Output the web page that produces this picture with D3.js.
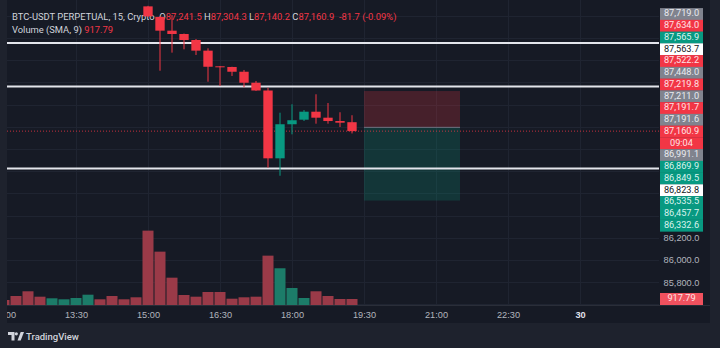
<!DOCTYPE html>
<html>
<head>
<meta charset="utf-8">
<script src="https://cdn.jsdelivr.net/npm/d3@7"></script>
<style>
  html, body { margin: 0; padding: 0; background: #1e222d; }
  svg { display: block; font-family: Roboto, "Noto Sans", sans-serif; }
</style>
</head>
<body>
<div id="chart"></div>
<script>
// bar times (15 min), 12:00 .. 19:15
var barTimes = ["12:00","12:15","12:30","12:45","13:00","13:15","13:30","13:45","14:00","14:15","14:30","14:45",
                "15:00","15:15","15:30","15:45","16:00","16:15","16:30","16:45","17:00","17:15","17:30","17:45",
                "18:00","18:15","18:30","18:45","19:00","19:15"];
// candles before 15:00 are above the visible range
var opens  = [null,null,null,null,null,null,null,null,null,null,null,null,
              88285,88190,88066,88036,87982,87886,87745,87739,87696,87597,87527,86916,87223,87264,87336,87282,87252,87241.5];
var highs  = [null,null,null,null,null,null,null,null,null,null,null,null,
              88290,88198,88207,88040,87991,87907,87748,87741,87712,87613,87552,87327,87403,87351,87493,87414,87331,87304.3];
var lows   = [null,null,null,null,null,null,null,null,null,null,null,null,
              88190,87705,87868,87898,87847,87606,87568,87658,87556,87523,86832,86759,87132,87252,87228,87228,87198,87140.2];
var closes = [null,null,null,null,null,null,null,null,null,null,null,null,
              88195,88066,88036,87982,87886,87741,87739,87696,87597,87527,86916,87223,87259,87336,87282,87252,87237,87160.9];
var volumes = [765,1377,2096,1270,1025,872,1071,1576,872,1377,872,1178,
               11368,8155,4177,1530,1270,1989,1989,964,1178,1270,7543,5615,2601,1071,2096,1377,918,917.79];
var volDir = ["d","d","d","d","u","u","u","u","d","d","d","d",
              "d","d","d","d","d","d","d","d","d","d","d","u","u","u","d","d","d","d"];

var timeTicks = ["12:00","13:30","15:00","16:30","18:00","19:30","21:00","22:30","30"];
var priceTicks = [85800, 86000, 86200];

// drawings
var hLines = [87955, 87563.7, 86823.8];
var position = {from: "19:30", to: "21:30", stop: 87522.2, entry: 87195, target: 86535.5};
var lastPrice = 87160.9;

// stacked labels on the price scale
var stackTexts = ["87,719.0","87,634.0","87,565.9","87,563.7","87,522.2","87,448.0","87,219.8","87,211.0","87,191.7","87,191.6",
                  "87,160.9","09:04","86,991.1","86,869.9","86,849.5","86,823.8","86,535.5","86,457.7","86,332.6"];
var stackKinds = ["gray","red","green","white","red","gray","red","gray","red","gray",
                  "red","red","gray","green","green","white","green","green","green"];

var legendMain = [["BTC-USDT PERPETUAL, 15, Crypto  ", "#d1d4dc"], ["O", "#d1d4dc"], ["87,241.5 ", "#f23645"],
                  ["H", "#d1d4dc"], ["87,304.3 ", "#f23645"], ["L", "#d1d4dc"], ["87,140.2 ", "#f23645"],
                  ["C", "#d1d4dc"], ["87,160.9 ", "#f23645"], [" -81.7 (-0.09%)", "#f23645"]];
var legendVol = [["Volume (SMA, 9) ", "#d1d4dc"], ["917.79", "#f23645"]];

var W = 720, H = 348;
var plot = {l: 7, r: 659, t: 0, b: 305};
var colors = {bg: "#161a25", frame: "#1e222d", grid: "#1f2431", up: "#089981", down: "#f23645",
              volUp: "#1c7c69", volDown: "#9a3a48", axisText: "#b2b5be"};

function parseT(s) {
    if (s === "30") return new Date(2025, 10, 30, 0, 0);
    var p = s.split(":");
    var h = +p[0], m = +p[1];
    return new Date(2025, 10, 29, h, m);
}

var x = d3.scaleTime().domain([parseT("12:00"), parseT("30")]).range([4, 580]);
var step = x(parseT("12:15")) - x(parseT("12:00"));
var y = d3.scaleLinear().domain([86000, 87000]).range([260, 149]);
var yV = d3.scaleLinear().domain([0, 12000]).range([plot.b, 226.5]);

var svg = d3.select("#chart").append("svg").attr("width", W).attr("height", H);

svg.append("rect").attr("width", W).attr("height", H).attr("fill", colors.frame);
svg.append("rect").attr("x", plot.l).attr("y", 0).attr("width", 710 - plot.l).attr("height", 323).attr("fill", colors.bg);

svg.append("clipPath").attr("id", "plotclip").append("rect")
    .attr("x", plot.l).attr("y", plot.t).attr("width", plot.r - plot.l).attr("height", plot.b - plot.t);

var g = svg.append("g").attr("clip-path", "url(#plotclip)");

// grid
var gridPrices = d3.range(85600, 88601, 200);
g.append("g").selectAll("line").data(gridPrices).enter().append("line")
    .attr("x1", plot.l).attr("x2", plot.r)
    .attr("y1", function(d){ return Math.round(y(d)) + 0.5; }).attr("y2", function(d){ return Math.round(y(d)) + 0.5; })
    .attr("stroke", colors.grid);
g.append("g").selectAll("line").data(timeTicks).enter().append("line")
    .attr("x1", function(d){ return Math.round(x(parseT(d))) + 0.5; }).attr("x2", function(d){ return Math.round(x(parseT(d))) + 0.5; })
    .attr("y1", plot.t).attr("y2", plot.b)
    .attr("stroke", colors.grid);

// legend (drawn under the candles, as in the screenshot)
function legendRow(rows, yy) {
    var t = svg.append("text").attr("x", 12).attr("y", yy).attr("font-size", 9.4).attr("dominant-baseline", "middle")
        .attr("xml:space", "preserve");
    rows.forEach(function(r){ t.append("tspan").attr("fill", r[1]).text(r[0]); });
}
legendRow(legendMain, 18);
legendRow(legendVol, 31);

var gc = svg.append("g").attr("clip-path", "url(#plotclip)");

// volume
gc.append("g").selectAll("rect").data(volumes).enter().append("rect")
    .attr("x", function(d, i){ return x(parseT(barTimes[i])) - step / 2 + 0.5; })
    .attr("width", step - 1)
    .attr("y", function(d){ return yV(d); })
    .attr("height", function(d){ return plot.b - yV(d); })
    .attr("fill", function(d, i){ return volDir[i] == "u" ? colors.volUp : colors.volDown; });

// position tool
var px0 = x(parseT(position.from)), px1 = x(parseT(position.to));
gc.append("rect").attr("x", px0).attr("width", px1 - px0)
    .attr("y", y(position.stop)).attr("height", y(position.entry) - y(position.stop))
    .attr("fill", "rgba(242,54,69,0.22)");
gc.append("rect").attr("x", px0).attr("width", px1 - px0)
    .attr("y", y(position.entry)).attr("height", y(position.target) - y(position.entry))
    .attr("fill", "rgba(8,153,129,0.22)");
gc.append("line").attr("x1", px0).attr("x2", px1).attr("y1", y(position.entry)).attr("y2", y(position.entry))
    .attr("stroke", "#6e7280").attr("stroke-width", 1);

// horizontal lines
gc.append("g").selectAll("line").data(hLines).enter().append("line")
    .attr("x1", plot.l).attr("x2", plot.r)
    .attr("y1", function(d){ return y(d); }).attr("y2", function(d){ return y(d); })
    .attr("stroke", "#e3e5ec").attr("stroke-width", 2);

// last price line
gc.append("line").attr("x1", plot.l).attr("x2", plot.r).attr("y1", y(lastPrice)).attr("y2", y(lastPrice))
    .attr("stroke", colors.down).attr("stroke-width", 1).attr("stroke-dasharray", "1,2").attr("opacity", 0.8);

// candles
var idx = d3.range(barTimes.length).filter(function(i){ return opens[i] != null; });
var bodyW = step * 0.78;
function cColor(i){ return closes[i] >= opens[i] ? colors.up : colors.down; }
gc.append("g").selectAll("line").data(idx).enter().append("line")
    .attr("x1", function(i){ return x(parseT(barTimes[i])); }).attr("x2", function(i){ return x(parseT(barTimes[i])); })
    .attr("y1", function(i){ return y(highs[i]); }).attr("y2", function(i){ return y(lows[i]); })
    .attr("stroke", cColor).attr("stroke-width", 1);
gc.append("g").selectAll("rect").data(idx).enter().append("rect")
    .attr("x", function(i){ return x(parseT(barTimes[i])) - bodyW / 2; })
    .attr("width", bodyW)
    .attr("y", function(i){ return y(Math.max(opens[i], closes[i])); })
    .attr("height", function(i){ return Math.max(1, Math.abs(y(opens[i]) - y(closes[i]))); })
    .attr("fill", cColor);

// price axis ticks
var pAxis = svg.append("g").attr("transform", "translate(" + plot.r + ",0)")
    .call(d3.axisRight(y).tickValues(priceTicks).tickFormat(d3.format(",.1f")).tickSize(0).tickPadding(6));
pAxis.select(".domain").remove();
pAxis.selectAll("text").attr("font-size", 9.2).attr("fill", colors.axisText).attr("x", 22.5)
    .attr("text-anchor", "middle").attr("font-family", null);

// time axis
var tAxis = svg.append("g").attr("transform", "translate(0," + plot.b + ")")
    .call(d3.axisBottom(x).tickValues(timeTicks.map(parseT)).tickSize(0).tickPadding(0)
        .tickFormat(function(d, i){ return timeTicks[i]; }));
tAxis.select(".domain").attr("stroke", "#2a2e39").attr("d", "M" + plot.l + ",0.5H710");
tAxis.selectAll("text").attr("font-size", 9.2).attr("dy", null).attr("y", 11).attr("dominant-baseline", "middle")
    .attr("font-family", null)
    .attr("fill", function(d, i){ return timeTicks[i] == "30" ? "#e0e3eb" : colors.axisText; })
    .attr("font-weight", function(d, i){ return timeTicks[i] == "30" ? "bold" : null; });
svg.append("rect").attr("x", 0).attr("y", plot.b + 1).attr("width", plot.l).attr("height", 18).attr("fill", colors.frame);

// stacked price labels
var kindStyle = {
    gray:  {bg: "#80838e", fg: "#e9ebf0"},
    red:   {bg: "#f23645", fg: "#ffe3e6"},
    green: {bg: "#089981", fg: "#d9f3ee"},
    white: {bg: "#ffffff", fg: "#131722"}
};
var rowH = 11.75, stackTop = 8.1, lx = 660, lw = 43;
var gl = svg.append("g");
gl.selectAll("rect").data(stackTexts).enter().append("rect")
    .attr("x", lx).attr("width", lw)
    .attr("y", function(d, i){ return stackTop + i * rowH; }).attr("height", rowH + 0.3)
    .attr("fill", function(d, i){ return kindStyle[stackKinds[i]].bg; });
gl.selectAll("text").data(stackTexts).enter().append("text")
    .attr("x", lx + lw / 2).attr("y", function(d, i){ return stackTop + (i + 0.5) * rowH; })
    .attr("text-anchor", "middle").attr("dominant-baseline", "middle").attr("font-size", 9.2)
    .attr("fill", function(d, i){ return kindStyle[stackKinds[i]].fg; })
    .text(function(d){ return d; });

// volume value label
var vl = volumes[volumes.length - 1];
svg.append("rect").attr("x", lx).attr("width", lw).attr("y", yV(vl) - 6).attr("height", 12).attr("fill", "#f0515e");
svg.append("text").attr("x", lx + lw / 2).attr("y", yV(vl)).attr("text-anchor", "middle").attr("dominant-baseline", "middle")
    .attr("font-size", 9.2).attr("fill", "#ffe3e6").text(d3.format(".2f")(vl));

// footer logo
var logo = svg.append("g").attr("fill", "#d1d4dc");
logo.append("path").attr("d", "M8,332h6.5v8.5h-3v-5.5h-3.5z");
logo.append("circle").attr("cx", 16.3).attr("cy", 333.8).attr("r", 1.6);
logo.append("path").attr("d", "M17.5,340.5l3.2,-8.5h3.3l-3.3,8.5z");
svg.append("text").attr("x", 26).attr("y", 337).attr("dominant-baseline", "middle").attr("font-size", 9.5)
    .attr("font-weight", 500).attr("fill", "#d1d4dc").text("TradingView");
</script>
</body>
</html>
